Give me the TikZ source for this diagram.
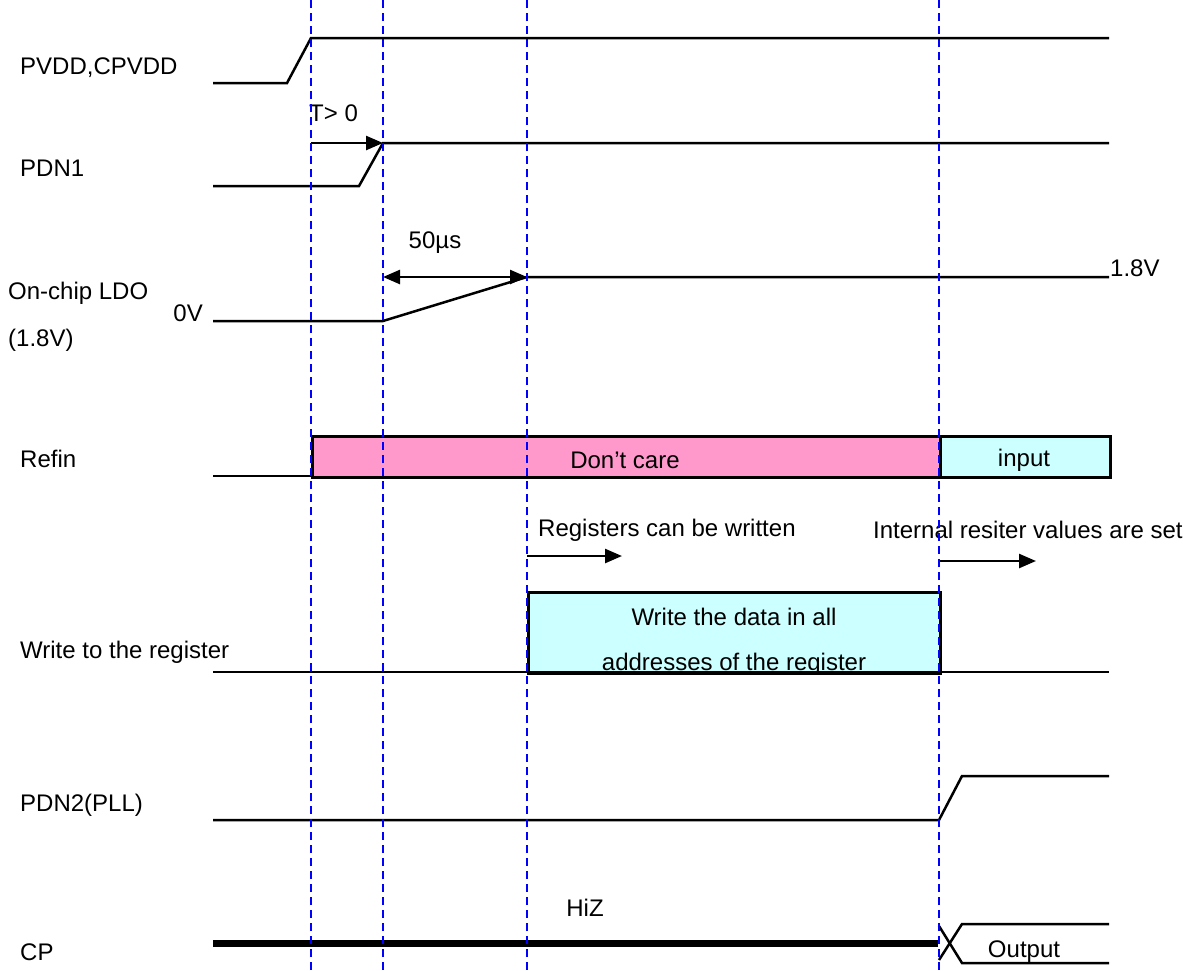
\documentclass[tikz,border=0pt]{standalone}
\usepackage{fontspec}
\setmainfont{Liberation Sans}
\usetikzlibrary{arrows.meta}
\definecolor{pinkfill}{HTML}{FF99CC}
\definecolor{cyanfill}{HTML}{CCFFFF}
\begin{document}
\begin{tikzpicture}[x=1pt,y=-1pt,
  sig/.style={line width=2.5pt,line join=miter},
  guide/.style={blue,line width=2.2pt,dash pattern=on 8pt off 5pt},
  lbl/.style={inner sep=0pt,font=\fontsize{24}{28}\selectfont},
  arr/.style={line width=2.5pt,-{Triangle[length=17pt,width=14pt]}},
  darr/.style={line width=2.5pt,{Triangle[length=17pt,width=14pt]}-{Triangle[length=17pt,width=14pt]}},
  box/.style={draw=black,line width=2.5pt}]
\useasboundingbox (0,0) rectangle (1190,970);
% boxes first
\node[box,fill=pinkfill,minimum width=628pt,minimum height=41pt,anchor=north west,inner sep=0pt] (dc) at (311,435) {};
\node[box,fill=cyanfill,minimum width=170pt,minimum height=41pt,anchor=north west,inner sep=0pt] (inp) at (939,435) {};
\node[box,fill=cyanfill,minimum width=412pt,minimum height=81pt,anchor=north west,inner sep=0pt] (wr) at (527,591) {};
\node[lbl] (dct) at (625,460) {Don’t care};
\node[lbl] (inpt) at (1024,460) {input};
\node[lbl] (wr1) at (734,617) {Write the data in all};
\node[lbl] (wr2) at (734,664) {addresses of the register};
% labels
\node[lbl,anchor=west] (l1) at (20,68) {PVDD,CPVDD};
\node[lbl,anchor=west] (l2) at (20,168) {PDN1};
\node[lbl,anchor=west] (l3a) at (8,293) {On-chip LDO};
\node[lbl,anchor=west] (l3b) at (8,340) {(1.8V)};
\node[lbl,anchor=east] (zv) at (203,313) {0V};
\node[lbl,anchor=west] (ov) at (1110,268) {1.8V};
\node[lbl,anchor=west] (l4) at (20,459) {Refin};
\node[lbl,anchor=west] (l5) at (20,652) {Write to the register};
\node[lbl,anchor=west] (l6) at (20,805) {PDN2(PLL)};
\node[lbl,anchor=west] (l7) at (20,952) {CP};
\node[lbl,anchor=west] (tg) at (309,113) {T> 0};
\node[lbl] (us) at (435,243) {50µs};
\node[lbl,anchor=west] (rw) at (538,530) {Registers can be written};
\node[lbl,anchor=west] (iv) at (873,530) {Internal resiter values are set};
\node[lbl] (hiz) at (585,908) {HiZ};
\node[lbl] (out) at (1024,952) {Output};
% coordinates
\coordinate (p0) at (213,83); \coordinate (p1) at (287,83); \coordinate (p2) at (311,38); \coordinate (p3) at (1109,38);
\coordinate (n0) at (213,186); \coordinate (n1) at (359,186); \coordinate (n2) at (383,143); \coordinate (n3) at (1109,143);
\coordinate (ta) at (311,143);
\coordinate (o0) at (213,321); \coordinate (o1) at (383,321); \coordinate (o2) at (527,277); \coordinate (o3) at (1109,277);
\coordinate (ua) at (383,277);
\coordinate (r0) at (213,476); \coordinate (r1) at (311,476);
\coordinate (w0) at (213,672); \coordinate (w1) at (1109,672);
\coordinate (q0) at (213,820); \coordinate (q1) at (939,820); \coordinate (q2) at (962,776); \coordinate (q3) at (1109,776);
\coordinate (c0) at (213,943); \coordinate (c1) at (938,943);
\coordinate (x1) at (939,926); \coordinate (x2) at (962,963); \coordinate (x3) at (1109,963);
\coordinate (y1) at (939,960); \coordinate (y2) at (962,924); \coordinate (y3) at (1109,924);
\coordinate (ra) at (527,556); \coordinate (rb) at (622,556);
\coordinate (ia) at (939,561); \coordinate (ib) at (1036,561);
% waveforms
\draw[sig] (p0) -- (p1) -- (p2) -- (p3);
\draw[sig] (n0) -- (n1) -- (n2) -- (n3);
\draw[sig] (o0) -- (o1) -- (o2) -- (o3);
\draw[sig] (r0) -- (r1);
\draw[sig] (w0) -- (w1);
\draw[sig] (q0) -- (q1) -- (q2) -- (q3);
\draw[line width=7pt] (c0) -- (c1);
\draw[sig] (x1) -- (x2) -- (x3);
\draw[sig] (y1) -- (y2) -- (y3);
% arrows
\draw[arr] (ta) -- (n2);
\draw[darr] (ua) -- (o2);
\draw[arr] (ra) -- (rb);
\draw[arr] (ia) -- (ib);
% guides
\foreach \gx/\gn in {311/ga,383/gb,527/gc,939/gd} {
  \coordinate (\gn top) at (\gx,0);
  \coordinate (\gn bot) at (\gx,970);
  \draw[guide] (\gn top) -- (\gn bot);
}
\end{tikzpicture}
\end{document}
